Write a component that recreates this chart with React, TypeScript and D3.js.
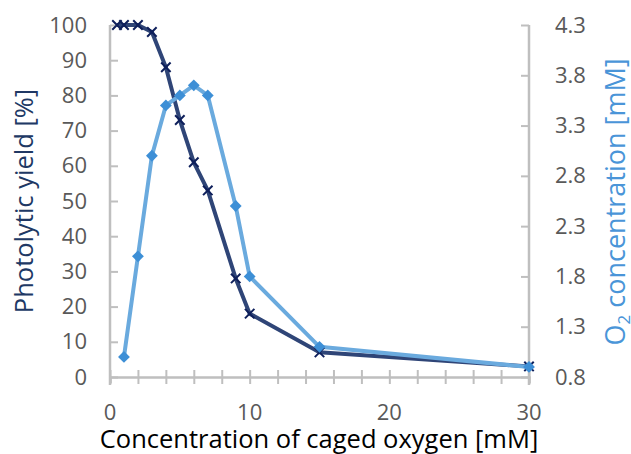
import React, { useEffect, useRef } from "react";
import * as d3 from "d3";

// caged oxygen concentration [mM]
const yieldX = [0.5, 1, 2, 3, 4, 5, 6, 7, 9, 10, 15, 30];
const yieldValues = [100, 100, 100, 98, 88, 73, 61, 53, 28, 18, 7, 3];

const o2X = [1, 2, 3, 4, 5, 6, 7, 9, 10, 15, 30];
const o2Values = [1.0, 2.0, 3.0, 3.5, 3.6, 3.7, 3.6, 2.5, 1.8, 1.1, 0.9];

const xTicks = [0, 10, 20, 30];
const leftTicks = [0, 10, 20, 30, 40, 50, 60, 70, 80, 90, 100];
const rightTicks = [0.8, 1.3, 1.8, 2.3, 2.8, 3.3, 3.8, 4.3];

const W = 631;
const H = 454;
const FONT = "'Open Sans', sans-serif";

const App = () => {
  const ref = useRef<SVGSVGElement>(null);

  useEffect(() => {
    const svg = d3.select(ref.current);
    svg.selectAll("*").remove();

    const x = d3.scaleLinear().domain([0, 30]).range([110, 529]);
    const yL = d3.scaleLinear().domain([0, 100]).range([377, 25]);
    const yR = d3.scaleLinear().domain([0.8, 4.3]).range([377, 25]);

    const axisColor = "#bfbfbf";
    const labelColor = "#595959";

    // x axis: ticks every 2, labels every 10
    const xAxis = d3.axisBottom(x).tickValues(d3.range(0, 31, 2)).tickSize(6);
    const gx = svg.append("g").attr("transform", "translate(0,377)").call(xAxis);
    gx.selectAll(".tick text").remove();
    gx.select(".domain").attr("stroke", axisColor).attr("stroke-width", 2.5);
    gx.selectAll(".tick line")
      .attr("stroke", axisColor)
      .attr("stroke-width", 2)
      .attr("y1", -7)
      .attr("y2", 7);
    svg
      .append("g")
      .selectAll("text")
      .data(xTicks)
      .enter()
      .append("text")
      .attr("x", (d) => x(d))
      .attr("y", 420)
      .attr("text-anchor", "middle")
      .attr("fill", labelColor)
      .style("font-family", FONT)
      .style("font-size", "22px")
      .text((d) => d);

    // left axis
    const yAxisL = d3
      .axisLeft(yL)
      .tickValues(leftTicks)
      .tickSize(-8)
      .tickPadding(23)
      .tickFormat((d) => String(d));
    const gl = svg.append("g").attr("transform", "translate(110,0)").call(yAxisL);
    gl.select(".domain").attr("stroke", axisColor).attr("stroke-width", 2.5).attr("d", "M0,25V385");
    gl.selectAll(".tick line").attr("stroke", axisColor).attr("stroke-width", 2);
    gl.selectAll(".tick text")
      .attr("fill", labelColor)
      .style("font-family", FONT)
      .style("font-size", "22px");

    // right axis
    const yAxisR = d3
      .axisRight(yR)
      .tickValues(rightTicks)
      .tickSize(-8)
      .tickPadding(26)
      .tickFormat(d3.format(".1f"));
    const gr = svg.append("g").attr("transform", "translate(529,0)").call(yAxisR);
    gr.select(".domain").attr("stroke", axisColor).attr("stroke-width", 2.5).attr("d", "M0,25V385");
    gr.selectAll(".tick line").attr("stroke", axisColor).attr("stroke-width", 2);
    gr.selectAll(".tick text")
      .attr("fill", labelColor)
      .style("font-family", FONT)
      .style("font-size", "22px");

    // lines
    const o2Line = d3
      .line<number>()
      .x((d, i) => x(o2X[i]))
      .y((d) => yR(d));
    const yieldLine = d3
      .line<number>()
      .x((d, i) => x(yieldX[i]))
      .y((d) => yL(d));

    svg
      .append("path")
      .attr("d", yieldLine(yieldValues))
      .attr("fill", "none")
      .attr("stroke", "#2f4577")
      .attr("stroke-width", 4)
      .attr("stroke-linejoin", "round");

    svg
      .append("path")
      .attr("d", o2Line(o2Values))
      .attr("fill", "none")
      .attr("stroke", "#6aaade")
      .attr("stroke-width", 4)
      .attr("stroke-linejoin", "round");

    // x markers
    const cross = d3.symbol().type(d3.symbolX).size(60);
    svg
      .append("g")
      .selectAll("path")
      .data(yieldValues)
      .enter()
      .append("path")
      .attr("d", cross)
      .attr("transform", (d, i) => `translate(${x(yieldX[i])},${yL(d)})`)
      .attr("fill", "none")
      .attr("stroke", "#0e1f5b")
      .attr("stroke-width", 2);

    // diamond markers
    const diamond = d3.symbol().type(d3.symbolSquare).size(70);
    svg
      .append("g")
      .selectAll("path")
      .data(o2Values)
      .enter()
      .append("path")
      .attr("d", diamond)
      .attr("transform", (d, i) => `translate(${x(o2X[i])},${yR(d)}) rotate(45)`)
      .attr("fill", "#3d8fd6");

    // titles
    svg
      .append("text")
      .attr("x", 319)
      .attr("y", 448)
      .attr("text-anchor", "middle")
      .attr("fill", "#000")
      .style("font-family", FONT)
      .style("font-size", "25.5px")
      .text("Concentration of caged oxygen [mM]");

    svg
      .append("text")
      .attr("transform", "translate(33,201) rotate(-90)")
      .attr("text-anchor", "middle")
      .attr("fill", "#203864")
      .style("font-family", FONT)
      .style("font-size", "25.5px")
      .text("Photolytic yield [%]");

    const rt = svg
      .append("text")
      .attr("transform", "translate(625,202) rotate(-90)")
      .attr("text-anchor", "middle")
      .attr("fill", "#4a95d8")
      .style("font-family", FONT)
      .style("font-size", "27px");
    rt.append("tspan").text("O");
    rt.append("tspan").attr("dy", 5).style("font-size", "17px").text("2");
    rt.append("tspan").attr("dy", -5).text(" concentration [mM]");
  }, []);

  return (
    <svg
      ref={ref}
      width={W}
      height={H}
      style={{ position: "absolute", left: 0, top: 0, background: "#fff" }}
    />
  );
};

export default App;
